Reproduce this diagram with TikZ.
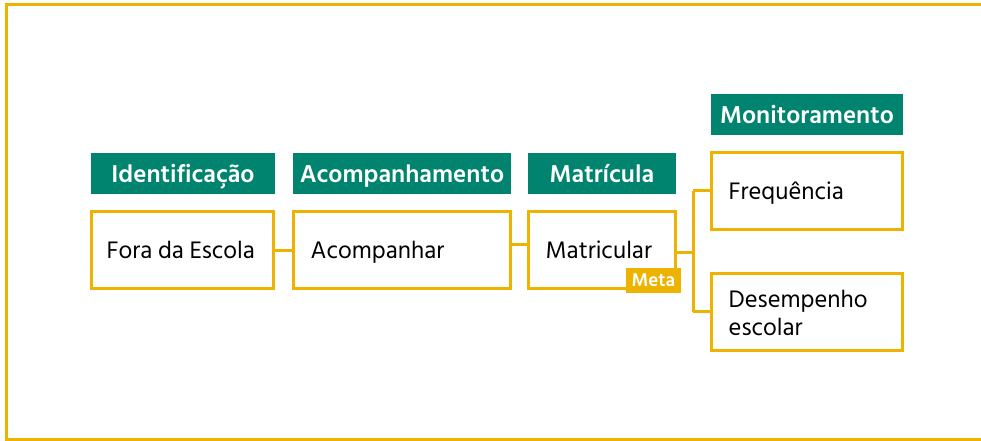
\documentclass[tikz,border=0pt]{standalone}
\usepackage{fontspec}
\setmainfont{Hind Siliguri}
\definecolor{gold}{HTML}{EEB200}
\definecolor{teal}{HTML}{00846F}
\begin{document}
\begin{tikzpicture}[x=1pt,y=-1pt,
  hdr/.style={fill=teal,text=white,font=\fontsize{25}{27}\selectfont\bfseries,inner sep=0pt,text height=19pt,text depth=2pt},
  wbox/.style={draw=gold,line width=3pt,fill=white,inner sep=0pt},
  lbl/.style={anchor=west,font=\fontsize{24.5}{28}\selectfont,inner sep=0pt,text height=17pt,text depth=0pt},
  lbltwo/.style={anchor=west,font=\fontsize{24.5}{28}\selectfont,inner sep=0pt,align=left},
  conn/.style={draw=gold,line width=3pt},
  metatag/.style={fill=gold,text=white,font=\fontsize{19}{20}\selectfont\bfseries,inner sep=0pt}]
\useasboundingbox (0,0) rectangle (981,441);
\draw[gold,line width=3pt] (990,5) -- (6,5) -- (6,439) -- (990,439);
% headers
\node[hdr,minimum width=184pt,minimum height=41pt] (h1) at (183,173.5) {Identificação};
\node[hdr,minimum width=218pt,minimum height=41pt] (h2) at (402,173.5) {Acompanhamento};
\node[hdr,minimum width=148pt,minimum height=41pt] (h3) at (602,173.5) {Matrícula};
\node[hdr,minimum width=192pt,minimum height=41pt] (h4) at (807,114.5) {Monitoramento};
% boxes
\node[wbox,minimum width=182pt,minimum height=77pt] (b1) at (182,249.5) {};
\node[wbox,minimum width=217pt,minimum height=77pt] (b2) at (401.5,249.5) {};
\node[wbox,minimum width=147pt,minimum height=77pt] (b3) at (601.5,249.5) {};
\node[wbox,minimum width=191pt,minimum height=77pt] (b4) at (806.5,190.5) {};
\node[wbox,minimum width=191pt,minimum height=77pt] (b5) at (806.5,311.5) {};
\node[lbl] (t1) at ([xshift=17pt]b1.west) {Fora da Escola};
\node[lbl] (t2) at ([xshift=19pt]b2.west) {Acompanhar};
\node[lbl] (t3) at ([xshift=19pt]b3.west) {Matricular};
\node[lbl] (t4) at ([xshift=19pt]b4.west) {Frequência};
\node[lbltwo] (t5) at ([xshift=19pt,yshift=-1pt]b5.west) {Desempenho\\escolar};
% meta tag
\node[metatag,minimum width=55pt,minimum height=25pt] (meta) at (653.5,280.5) {Meta};
% connectors
\coordinate (j) at (693,252);
\draw[conn] (b1.east |- 0,250) -- (b2.west |- 0,250);
\draw[conn] (b2.east |- 0,244) -- (b3.west |- 0,244);
\draw[conn] (b3.east |- j) -- (j);
\draw[conn] (j |- b4.west) -- (j |- b5.west);
\draw[conn] (j |- b4.west) -- (b4.west);
\draw[conn] (j |- b5.west) -- (b5.west);
\end{tikzpicture}
\end{document}
